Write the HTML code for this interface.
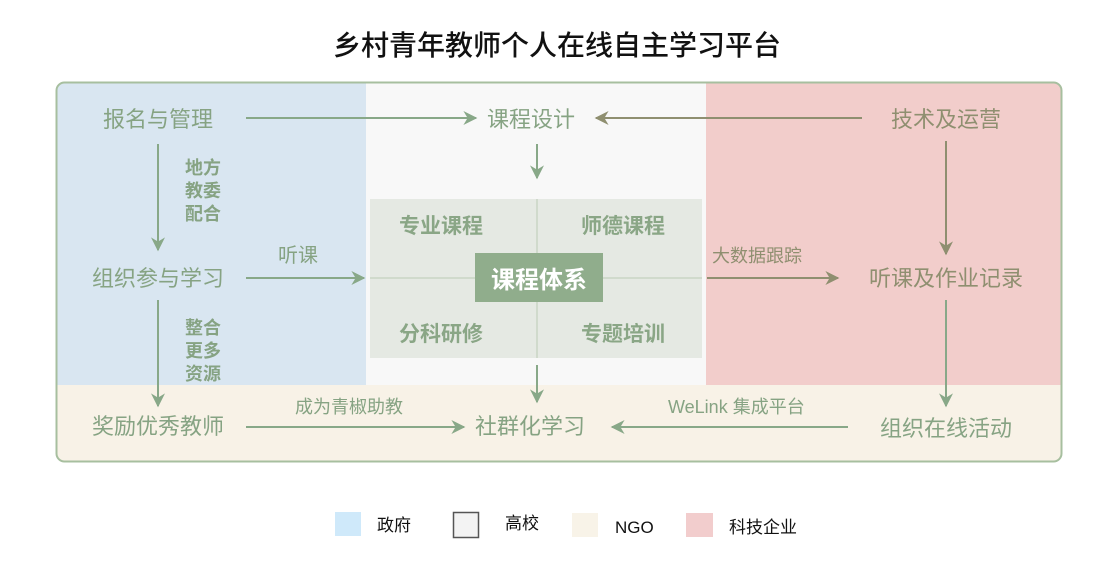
<!DOCTYPE html>
<html><head><meta charset="utf-8"><style>
body{margin:0;background:#fff;}
svg text{font-family:"Liberation Sans","Noto Sans CJK SC",sans-serif;}
</style></head><body>
<svg width="1110" height="572" viewBox="0 0 1110 572" xmlns="http://www.w3.org/2000/svg">
<defs>
<marker id="a" viewBox="0 0 10 10" refX="9" refY="5" markerWidth="16" markerHeight="14" markerUnits="userSpaceOnUse" orient="auto"><path d="M0,0 L10,5 L0,10 L3,5 z" fill="#88a888"/></marker>
<marker id="b" viewBox="0 0 10 10" refX="9" refY="5" markerWidth="16" markerHeight="14" markerUnits="userSpaceOnUse" orient="auto"><path d="M0,0 L10,5 L0,10 L3,5 z" fill="#8f8f70"/></marker>
<clipPath id="c"><rect x="56" y="82" width="1006" height="380" rx="8"/></clipPath>
</defs>
<rect width="1110" height="572" fill="#fff"/>
<text x="557" y="55" font-size="28" font-weight="500" text-anchor="middle" fill="#111">乡村青年教师个人在线自主学习平台</text>
<g clip-path="url(#c)">
<rect x="56" y="82" width="310" height="303" fill="#d9e6f1"/>
<rect x="366" y="82" width="340" height="303" fill="#f8f8f8"/>
<rect x="706" y="82" width="356" height="303" fill="#f2cdcb"/>
<rect x="56" y="385" width="1006" height="77" fill="#f8f2e7"/>
</g>
<rect x="56.5" y="82.5" width="1005" height="379" rx="8" fill="none" stroke="#a7bf9f" stroke-width="2"/>
<rect x="370" y="199" width="332" height="159" fill="#e5e9e3"/>
<line x1="537" y1="199" x2="537" y2="358" stroke="#c9d6c4" stroke-width="1.5"/>
<line x1="370" y1="278" x2="702" y2="278" stroke="#c9d6c4" stroke-width="1.5"/>
<rect x="475" y="253" width="128" height="49" fill="#90ad8c"/>
<text x="539" y="288" font-size="24" font-weight="bold" text-anchor="middle" fill="#fff">课程体系</text>
<g font-size="21" font-weight="bold" fill="#8aa686" text-anchor="middle">
<text x="441" y="233">专业课程</text><text x="623" y="233">师德课程</text>
<text x="441" y="341">分科研修</text><text x="623" y="341">专题培训</text>
</g>
<g font-size="22" fill="#86a383" text-anchor="middle">
<text x="158" y="127">报名与管理</text>
<text x="158" y="286">组织参与学习</text>
<text x="158" y="434">奖励优秀教师</text>
<text x="531" y="127">课程设计</text>
<text x="530" y="434">社群化学习</text>
<text x="946" y="436">组织在线活动</text>
</g>
<g font-size="22" fill="#8f8f70" text-anchor="middle">
<text x="946" y="127">技术及运营</text>
<text x="946" y="286">听课及作业记录</text>
</g>
<g font-size="18" font-weight="bold" fill="#86a383">
<text x="185" y="174">地方</text><text x="185" y="197">教委</text><text x="185" y="220">配合</text>
<text x="185" y="334">整合</text><text x="185" y="357">更多</text><text x="185" y="380">资源</text>
</g>
<g font-size="18" fill="#86a383">
<text x="278" y="262" font-size="20">听课</text>
<text x="295" y="413">成为青椒助教</text>
<text x="668" y="413">WeLink 集成平台</text>
</g>
<text x="712" y="262" font-size="18" fill="#8f8f70">大数据跟踪</text>
<g stroke="#88a888" stroke-width="2" fill="none" marker-end="url(#a)">
<line x1="246" y1="118" x2="476" y2="118"/>
<line x1="158" y1="144" x2="158" y2="250"/>
<line x1="246" y1="278" x2="364" y2="278"/>
<line x1="158" y1="300" x2="158" y2="406"/>
<line x1="246" y1="427" x2="464" y2="427"/>
<line x1="537" y1="144" x2="537" y2="178"/>
<line x1="537" y1="365" x2="537" y2="402"/>
<line x1="848" y1="427" x2="612" y2="427"/>
<line x1="946" y1="300" x2="946" y2="406"/>
</g>
<g stroke="#8f8f70" stroke-width="2" fill="none" marker-end="url(#b)">
<line x1="862" y1="118" x2="596" y2="118"/>
<line x1="946" y1="141" x2="946" y2="254"/>
<line x1="707" y1="278" x2="838" y2="278"/>
</g>
<rect x="335" y="512" width="26" height="24" fill="#cfe9fa"/>
<text x="377" y="531" font-size="17" fill="#111">政府</text>
<rect x="453.5" y="512.5" width="25" height="25" fill="#f3f3f3" stroke="#555" stroke-width="1.5"/>
<text x="505" y="529" font-size="17" fill="#111">高校</text>
<rect x="572" y="513" width="26" height="24" fill="#f8f3e8"/>
<text x="615" y="533" font-size="17" fill="#111">NGO</text>
<rect x="686" y="513" width="27" height="24" fill="#f2cdcd"/>
<text x="729" y="533" font-size="17" fill="#111">科技企业</text>
</svg>
</body></html>
